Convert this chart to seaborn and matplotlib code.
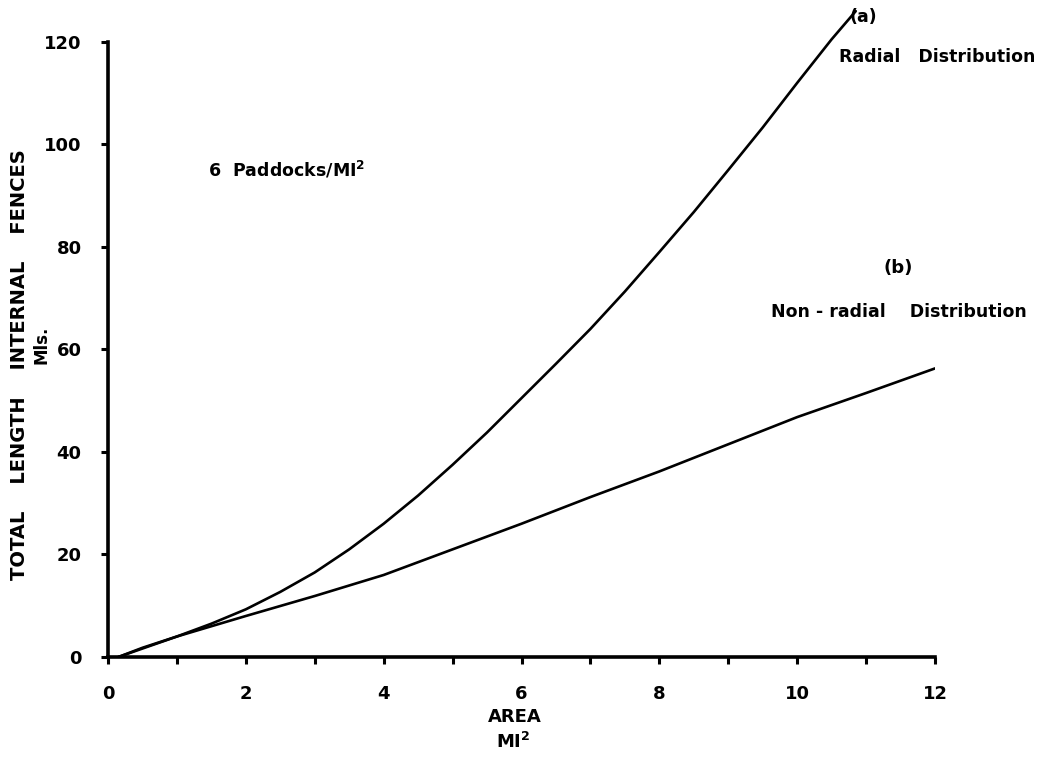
import matplotlib
matplotlib.use("Agg")
import matplotlib.pyplot as plt
import seaborn as sns
import pandas as pd

# Fence length vs. area, 6 paddocks per square mile
area_radial = [0.15, 0.5, 1, 1.5, 2, 2.5, 3, 3.5, 4, 4.5, 5, 5.5, 6, 6.5,
               7, 7.5, 8, 8.5, 9, 9.5, 10, 10.5, 10.85]
length_radial = [0, 1.8, 4, 6.5, 9.3, 12.7, 16.5, 21, 26, 31.5, 37.5, 43.8,
                 50.5, 57.2, 64, 71.3, 79, 86.8, 95, 103.3, 112, 120.5, 126]

area_nonradial = [0.15, 1, 2, 3, 4, 5, 6, 7, 8, 9, 10, 11, 12]
length_nonradial = [0, 4, 8, 11.9, 16, 21, 26, 31.2, 36.2, 41.5, 46.8, 51.5, 56.3]

x_ticks = [0, 2, 4, 6, 8, 10, 12]
y_ticks = [0, 20, 40, 60, 80, 100, 120]

sns.set_theme(style="white")
plt.rcParams["font.family"] = ["DejaVu Sans"]
plt.rcParams["font.weight"] = "bold"
plt.rcParams["text.color"] = "black"
plt.rcParams["xtick.color"] = "black"
plt.rcParams["ytick.color"] = "black"
plt.rcParams["mathtext.default"] = "bf"

df = pd.concat([
    pd.DataFrame({"area": area_radial, "length": length_radial, "curve": "a"}),
    pd.DataFrame({"area": area_nonradial, "length": length_nonradial, "curve": "b"}),
])

fig = plt.figure(figsize=(10.53, 7.58), dpi=100)
ax = fig.add_axes([108 / 1053, 101 / 758, 827 / 1053, 651 / 758])

sns.lineplot(data=df, x="area", y="length", hue="curve",
             palette={"a": "black", "b": "black"}, linewidth=1.9,
             legend=False, ax=ax, sort=False, estimator=None)

ax.set_xlim(0, 12)
ax.set_ylim(0, 127)

for side in ("top", "right"):
    ax.spines[side].set_visible(False)
for side in ("left", "bottom"):
    ax.spines[side].set_linewidth(2.6)
    ax.spines[side].set_color("black")
ax.spines["left"].set_bounds(0, 120)
ax.spines["bottom"].set_bounds(0, 12)

ax.set_xticks(x_ticks)
ax.set_xticks(range(0, 13), minor=True)
ax.set_yticks(y_ticks)
ax.tick_params(axis="x", which="both", direction="out", length=5, width=2.2,
               color="black", bottom=True)
ax.tick_params(axis="x", which="major", pad=15, labelsize=13)
ax.tick_params(axis="y", direction="out", length=5, width=2.2, color="black",
               left=True, pad=14, labelsize=13)
for lbl in ax.get_xticklabels() + ax.get_yticklabels():
    lbl.set_fontweight("bold")

ax.set_xlabel("")
ax.set_ylabel("")

fig.text(20 / 1053, 1 - 365 / 758, "TOTAL    LENGTH    INTERNAL    FENCES",
         rotation=90, ha="center", va="center", fontsize=14, fontweight="bold")
fig.text(42 / 1053, 1 - 345 / 758, "Mls.", rotation=90, ha="center",
         va="center", fontsize=12, fontweight="bold")
fig.text(515 / 1053, 1 - 717 / 758, "AREA", ha="center", va="center",
         fontsize=13, fontweight="bold")
fig.text(513 / 1053, 1 - 742 / 758, r"MI$^{2}$", ha="center",
         va="center", fontsize=13, fontweight="bold")

ax.text(1.45, 95, r"6  Paddocks/MI$^{2}$", ha="left", va="center",
        fontsize=12.5, fontweight="bold")
ax.text(10.96, 124.8, "(a)", ha="center", va="center", fontsize=12.5,
        fontweight="bold", clip_on=False)
ax.text(10.6, 117, "Radial   Distribution", ha="left", va="center",
        fontsize=12.5, fontweight="bold", clip_on=False)
ax.text(11.47, 75.9, "(b)", ha="center", va="center", fontsize=13,
        fontweight="bold", clip_on=False)
ax.text(9.62, 67.3, "Non - radial    Distribution", ha="left", va="center",
        fontsize=12.5, fontweight="bold", clip_on=False)

fig.savefig("out.png", dpi=100, facecolor="white")
